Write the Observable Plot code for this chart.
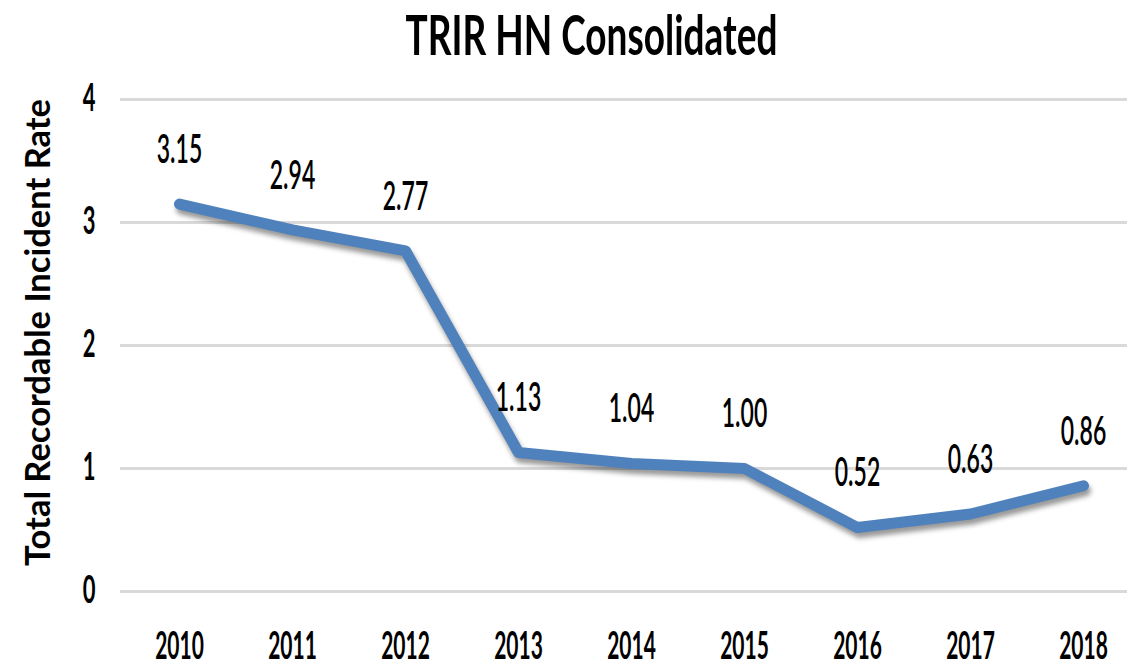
<!DOCTYPE html>
<html>
<head>
<meta charset="utf-8">
<script src="https://cdn.jsdelivr.net/npm/d3@7"></script>
<script src="https://cdn.jsdelivr.net/npm/@observablehq/plot@0.6"></script>
<style>
  body { margin: 0; background: #fff; }
  #wrap { position: relative; width: 1127px; height: 667px; overflow: hidden; background: #fff; }
  #title {
    position: absolute; top: 2px; left: 0; width: 1127px; box-sizing: border-box;
    padding-left: 56px; text-align: center;
    font-family: Lato, "Liberation Sans", sans-serif; font-weight: 700; font-size: 37px;
    line-height: 1.2; color: #000; transform: scaleY(1.48); transform-origin: 50% 0;
    white-space: nowrap;
  }
  #chart { position: absolute; top: 62px; left: 0; }
</style>
</head>
<body>
<div id="wrap">
  <div id="title">TRIR HN Consolidated</div>
  <div id="chart"></div>
</div>
<script>
const years = ["2010", "2011", "2012", "2013", "2014", "2015", "2016", "2017", "2018"];
const rates = [3.15, 2.94, 2.77, 1.13, 1.04, 1.00, 0.52, 0.63, 0.86];
const rateLabels = ["3.15", "2.94", "2.77", "1.13", "1.04", "1.00", "0.52", "0.63", "0.86"];
const yTicks = [0, 1, 2, 3, 4];
const yTitle = "Total Recordable Incident Rate";

const data = years.map((year, i) => ({year, rate: rates[i], label: rateLabels[i]}));

const chart = Plot.plot({
  width: 1127,
  height: 605,
  marginTop: 37,
  marginBottom: 76,
  marginLeft: 120,
  marginRight: 0,
  style: {fontFamily: "Lato, 'Liberation Sans', sans-serif", color: "#000", background: "#fff", overflow: "visible"},
  x: {type: "point", domain: years, range: [177, 1085], padding: 0, label: null},
  y: {domain: [0, 4], label: null},
  marks: [
    Plot.ruleY(yTicks, {stroke: "#d9d9d9", strokeWidth: 3}),
    Plot.axisY(yTicks, {tickSize: 0, tickPadding: 25, fontSize: 22, fontWeight: 700, label: null, tickFormat: d => String(d)}),
    Plot.axisX(years, {tickSize: 0, tickPadding: 41, fontSize: 21, fontWeight: 700, label: null}),
    Plot.line(data, {x: "year", y: "rate", stroke: "#000", strokeOpacity: 0.4, strokeWidth: 11,
      dx: 2, dy: 5, strokeLinecap: "round", strokeLinejoin: "round", ariaDescription: "shadow"}),
    Plot.line(data, {x: "year", y: "rate", stroke: "#4f81bd", strokeWidth: 11,
      strokeLinecap: "round", strokeLinejoin: "round"}),
    Plot.text(data, {x: "year", y: "rate", text: "label", dy: -54, fontSize: 23, fontWeight: 600, fill: "#000", ariaDescription: "data-label"}),
    Plot.text([yTitle], {frameAnchor: "left", textAnchor: "middle", rotate: -90, dx: -82, dy: -13, fontSize: 34.5,
      fontWeight: 700, fill: "#000", ariaDescription: "y-title"})
  ]
});

// vertical stretch of horizontal labels (condensed look of the original)
const stretchText = (g, k) => {
  g.querySelectorAll("text").forEach(t => {
    const x = +t.getAttribute("x") || 0, y = +t.getAttribute("y") || 0;
    const tr = t.getAttribute("transform") || "";
    t.setAttribute("transform", `${tr} translate(${x},${y}) scale(1,${k}) translate(${-x},${-y})`);
  });
};
chart.querySelectorAll("g").forEach(g => {
  const label = g.getAttribute("aria-label") || "";
  const desc = g.getAttribute("aria-description") || "";
  if (label === "x-axis tick label") stretchText(g, 1.8);
  else if (label === "y-axis tick label") stretchText(g, 1.7);
  else if (desc === "data-label") stretchText(g, 1.75);
});

// soft shadow under the line
const ns = "http://www.w3.org/2000/svg";
const defs = document.createElementNS(ns, "defs");
const filter = document.createElementNS(ns, "filter");
filter.setAttribute("id", "lineShadowBlur");
filter.setAttribute("x", "-10%"); filter.setAttribute("y", "-10%");
filter.setAttribute("width", "120%"); filter.setAttribute("height", "120%");
const blur = document.createElementNS(ns, "feGaussianBlur");
blur.setAttribute("stdDeviation", "2.5");
filter.appendChild(blur);
defs.appendChild(filter);
chart.insertBefore(defs, chart.firstChild);
const sh = chart.querySelector('g[aria-description="shadow"]');
if (sh) sh.setAttribute("filter", "url(#lineShadowBlur)");

document.getElementById("chart").appendChild(chart);
</script>
</body>
</html>
